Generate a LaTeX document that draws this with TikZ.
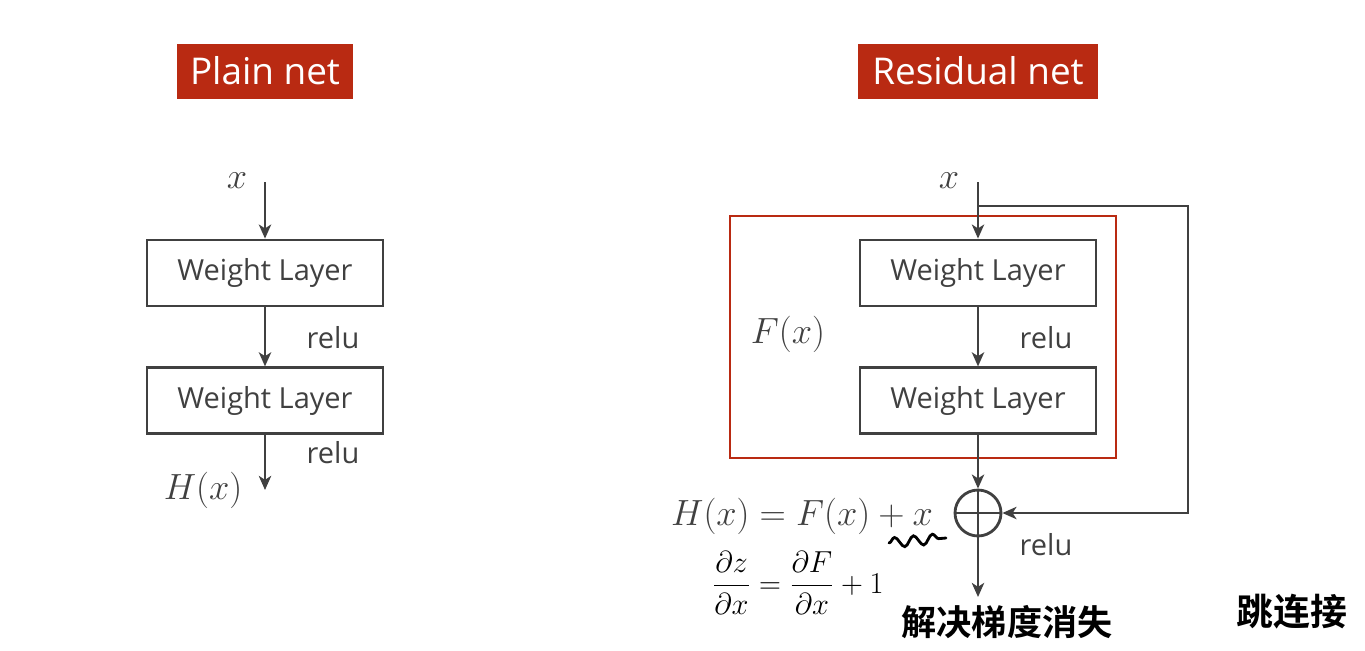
\documentclass[tikz,border=0pt]{standalone}
\usepackage{fontspec}
\setmainfont{Open Sans}
\newfontfamily\cjkhand{Noto Sans CJK SC Bold}
\usetikzlibrary{positioning, arrows.meta, decorations.pathmorphing, calc}
\definecolor{titlered}{RGB}{185,42,18}
\definecolor{linegray}{RGB}{64,64,64}
\newcommand{\gradnote}{$\displaystyle\frac{\partial z}{\partial x}=\frac{\partial F}{\partial x}+1$}

\begin{document}
\begin{tikzpicture}[x=0.02cm, y=-0.02cm,
    layer/.style={draw=linegray,
      line width=1.6pt,
      minimum width=4.72cm,
      minimum height=1.32cm,
      text=linegray,
      font=\fontsize{16.5}{18}\selectfont},
    title/.style={fill=titlered,
      text=white,
      minimum height=1.1cm,
      font=\fontsize{21}{24}\selectfont},
    flow/.style={draw=linegray,
      line width=1.6pt,
      -{Stealth[length=8pt, width=7pt, inset=2.2pt]}},
    lbl/.style={text=linegray, font=\fontsize{16.5}{18}\selectfont},
    mathlbl/.style={text=linegray, font=\fontsize{20}{22}\selectfont},
    hand/.style={text=black}]
  \useasboundingbox (0,0) rectangle (1365,650);

  % PLAIN NET
  \node [title, minimum width=3.54cm] (plaintitle) at (265,71) {Plain net};

  \node [layer] (plainW1) at (265,273) {Weight Layer};
  \node [layer, below=1.18cm of plainW1] (plainW2) {Weight Layer};

  \coordinate (plainIn) at (265,182);
  \coordinate (plainOut) at (265,490);
  \node [mathlbl] (plainX) at (237,181) {$x$};
  \node [lbl] (plainR1) at (333,338) {relu};
  \node [lbl] (plainR2) at (333,453) {relu};
  \node [mathlbl] (plainH) at (203,490) {$H(x)$};

  \draw[flow] (plainIn) -- (plainW1);
  \draw[flow] (plainW1) -- (plainW2);
  \draw[flow] (plainW2) -- (plainOut);

  % RESIDUAL NET
  \node [title, minimum width=4.8cm] (restitle) at (978,71) {Residual net};

  \node [draw=titlered, line width=1.1pt, minimum width=7.72cm,
    minimum height=4.84cm] (resF) at (923,337) {};
  \node [mathlbl] (resFx) at (788,334) {$F(x)$};

  \node [layer] (resW1) at (978,273) {Weight Layer};
  \node [layer, below=1.18cm of resW1] (resW2) {Weight Layer};

  \node [circle, draw=linegray, line width=1.6pt,
    minimum size=0.92cm] (resSum) at (978,513) {};
  \draw[linegray, line width=1.6pt] (resSum.north) -- (resSum.south)
    (resSum.west) -- (resSum.east);

  \coordinate (resIn) at (978,182);
  \coordinate (resSplit) at (978,206);
  \coordinate (resSkip) at (1188,206);
  \coordinate (resOut) at (978,597);
  \node [mathlbl] (resX) at (949,181) {$x$};
  \node [lbl] (resR1) at (1046,338) {relu};
  \node [lbl] (resR2) at (1046,545) {relu};
  \node [mathlbl] (resH) at (802,516) {$H(x)=F(x)+x$};

  \draw[flow] (resIn) -- (resW1);
  \draw[flow] (resW1) -- (resW2);
  \draw[flow] (resW2) -- (resSum);
  \draw[flow] (resSum) -- (resOut);
  \draw[flow] (resSplit) -- (resSkip) |- (resSum);

  % NOTES
  \node [hand, font=\fontsize{16}{18}\selectfont] (grad) at (798,583) {\gradnote};
  \node [hand, font=\cjkhand\fontsize{20}{22}\selectfont] (vanish) at (1007,622) {解决梯度消失};
  \node [hand, font=\cjkhand\fontsize{21}{23}\selectfont] (skip) at (1292,612) {跳连接};
  \draw[black, line width=1.6pt, line cap=round, decorate,
    decoration={snake, amplitude=0.1cm, segment length=0.38cm}]
    (889,543) -- (946,538);

\end{tikzpicture}
\end{document}
